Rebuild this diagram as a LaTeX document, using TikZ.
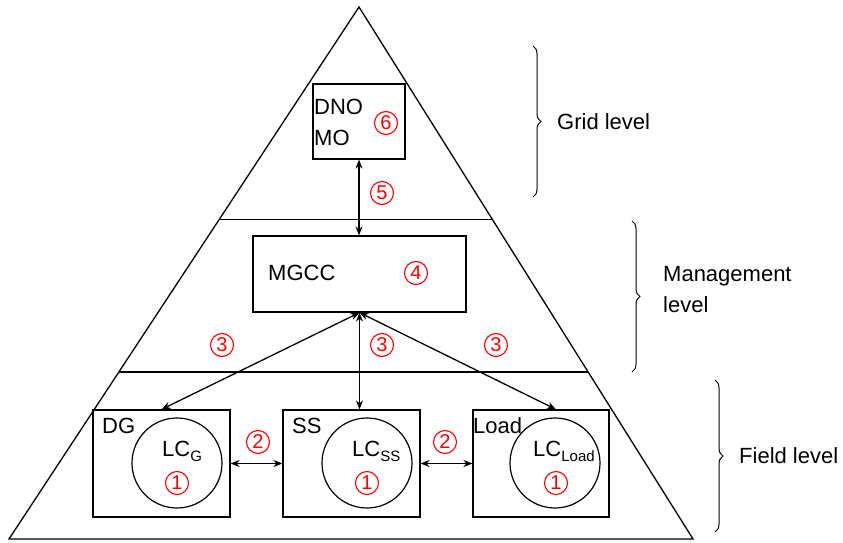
\documentclass[tikz,border=0pt]{standalone}
\usepackage{fontspec}
\setmainfont{Liberation Sans}
\usetikzlibrary{arrows.meta,decorations.pathreplacing,calc}

\newcommand{\lcsub}[1]{LC\raisebox{-5pt}{\fontsize{15}{15}\selectfont #1}}

\tikzset{
	edge/.style={line width=1.3pt},
	box/.style={draw,line width=1.2pt,rectangle,inner sep=0pt},
	lc/.style={draw,line width=1.2pt,circle,minimum size=90pt,inner sep=0pt},
	txt/.style={anchor=base west,inner sep=0pt},
	num/.style={draw=red,text=red,circle,line width=1.1pt,minimum size=23pt,inner sep=0pt,font=\fontsize{20}{20}\selectfont},
	link/.style={{Stealth[length=9pt,width=7pt]}-{Stealth[length=9pt,width=7pt]},line width=1.3pt},
	lvl/.style={decorate,decoration={brace,amplitude=8pt},line width=1pt},
}

\begin{document}
\begin{tikzpicture}[x=1pt,y=-1pt,font=\fontsize{22}{31}\selectfont]
	\useasboundingbox (0,0) rectangle (843,543);
	
	% pyramid
	\coordinate (top) at (359,7);
	\coordinate (bl) at (9,539);
	\coordinate (br) at (693,539);
	\draw[edge] (top) -- (bl) -- (br) -- cycle;
	\draw[edge] ($(top)!0.4!(bl)$) -- ($(top)!0.4!(br)$);
	\draw[edge] ($(top)!0.686!(bl)$) -- ($(top)!0.686!(br)$);
	
	% grid level
	\node[box,minimum width=92pt,minimum height=75pt] (dno) at (359,121.5) {};
	\node[txt] (dnol) at (314,114) {DNO};
	\node[txt] (mol) at (314,145) {MO};
	\node[num] (n6) at (386,123) {6};
	
	% management level
	\node[box,minimum width=213pt,minimum height=76pt] (mgcc) at (359.5,274) {};
	\node[txt] (mgccl) at (268,280) {MGCC};
	\node[num] (n4) at (416,273) {4};
	\draw[link] (dno.south) -- (dno.south |- mgcc.north);
	\node[num] (n5) at (382,193) {5};
	
	% field level
	\node[box,minimum width=137pt,minimum height=107pt] (dg) at (161.5,463.5) {};
	\node[box,minimum width=137pt,minimum height=107pt] (ss) at (351.5,463.5) {};
	\node[box,minimum width=136pt,minimum height=107pt] (load) at (541,463.5) {};
	\node[lc] (lcg) at (177,463) {};
	\node[lc] (lcss) at (367,463) {};
	\node[lc] (lcload) at (555,463) {};
	\node[txt] (dgl) at (102,433) {DG};
	\node[txt] (ssl) at (292,433) {SS};
	\node[txt] (loadl) at (473,433) {Load};
	\node[txt] (lcgl) at (162,456) {\lcsub{G}};
	\node[txt] (lcssl) at (352,456) {\lcsub{SS}};
	\node[txt] (lcloadl) at (533,456) {\lcsub{Load}};
	\node[num] (n1a) at (177,483) {1};
	\node[num] (n1b) at (367,483) {1};
	\node[num] (n1c) at (556,483) {1};
	
	\draw[link] (mgcc.south) -- (dg.north);
	\draw[link] (mgcc.south) -- (mgcc.south |- ss.north);
	\draw[link] (mgcc.south) -- ([xshift=15pt]load.north);
	\node[num] (n3a) at (222,345) {3};
	\node[num] (n3b) at (382,345) {3};
	\node[num] (n3c) at (496,345) {3};
	
	\draw[link] (dg) -- (ss);
	\draw[link] (ss) -- (load);
	\node[num] (n2a) at (258,442) {2};
	\node[num] (n2b) at (445,442) {2};
	
	% levels
	\draw[lvl] (533,46) -- (533,197);
	\node[txt] (gridl) at (557,129) {Grid level};
	\draw[lvl] (632,221) -- (632,372);
	\node[txt] (mgtl) at (663,281) {Management};
	\node[txt] (mgtl2) at (663,312) {level};
	\draw[lvl] (715,380) -- (715,532);
	\node[txt] (fieldl) at (739,463) {Field level};
\end{tikzpicture}
\end{document}
